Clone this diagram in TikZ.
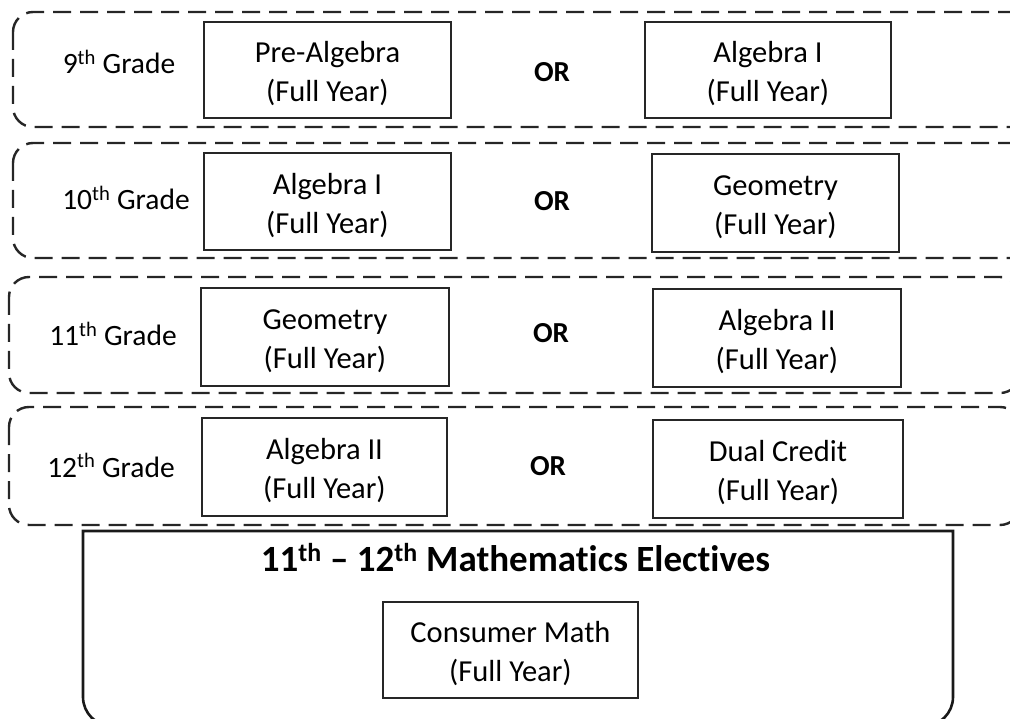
\documentclass[tikz,border=0pt]{standalone}
\usepackage{fontspec}
\setmainfont{Carlito}[Ligatures=NoCommon]
\tikzset{
  rowbox/.style={draw=black!85, line width=2.4pt, dash pattern=on 18pt off 9pt, rounded corners=20pt},
  coursebox/.style={draw=black!85, line width=1.8pt, rectangle, inner sep=0pt},
  coursetext/.style={align=center, inner sep=0pt, yshift=-4pt,
    font=\fontsize{30.5}{39}\selectfont},
  grade/.style={anchor=base, font=\fontsize{29.5}{37}\selectfont},
  orlabel/.style={anchor=base, font=\fontsize{29}{34}\selectfont\bfseries},
  elecbox/.style={draw=black!90, line width=2.6pt},
  electitle/.style={anchor=base, font=\fontsize{37}{44}\selectfont\bfseries}
}
\begin{document}
\begin{tikzpicture}[x=1pt, y=-1pt]
\useasboundingbox (0,0) rectangle (1010,719);
\clip (0,0) rectangle (1010,719);
% grade rows
\draw[rowbox] (13,12) rectangle (1030,127);
\draw[rowbox] (13,143) rectangle (1030,258);
\draw[rowbox] (9,277) rectangle (1020,393);
\draw[rowbox] (9,407) rectangle (1020,525);
% grade labels
\node[grade] (g9)  at (119,74)  {9\textsuperscript{th} Grade};
\node[grade] (g10) at (126,210) {10\textsuperscript{th} Grade};
\node[grade] (g11) at (113,346) {11\textsuperscript{th} Grade};
\node[grade] (g12) at (111,477) {12\textsuperscript{th} Grade};
% OR labels
\node[orlabel] (or1) at (552,82)  {OR};
\node[orlabel] (or2) at (552,211) {OR};
\node[orlabel] (or3) at (551,343) {OR};
\node[orlabel] (or4) at (548,475) {OR};
% courses
\node[coursebox, minimum width=247pt, minimum height=96pt] (c9a)  at (327.5,70)  {};
\node[coursebox, minimum width=246pt, minimum height=96pt] (c9b)  at (768,70)    {};
\node[coursebox, minimum width=247pt, minimum height=97pt] (c10a) at (327.5,201.5) {};
\node[coursebox, minimum width=247pt, minimum height=98pt] (c10b) at (775.5,203) {};
\node[coursebox, minimum width=248pt, minimum height=98pt] (c11a) at (325,337)   {};
\node[coursebox, minimum width=248pt, minimum height=98pt] (c11b) at (777,338)   {};
\node[coursebox, minimum width=245pt, minimum height=98pt] (c12a) at (324.5,467) {};
\node[coursebox, minimum width=250pt, minimum height=98pt] (c12b) at (778,469)   {};
\node[coursetext] (t9a)  at (c9a.center)  {Pre-Algebra\\(Full Year)};
\node[coursetext] (t9b)  at (c9b.center)  {Algebra I\\(Full Year)};
\node[coursetext] (t10a) at (c10a.center) {Algebra I\\(Full Year)};
\node[coursetext] (t10b) at (c10b.center) {Geometry\\(Full Year)};
\node[coursetext] (t11a) at (c11a.center) {Geometry\\(Full Year)};
\node[coursetext] (t11b) at (c11b.center) {Algebra II\\(Full Year)};
\node[coursetext] (t12a) at (c12a.center) {Algebra II\\(Full Year)};
\node[coursetext] (t12b) at (c12b.center) {Dual Credit\\(Full Year)};
% electives
\draw[elecbox] (83,531) -- (83,697) arc[start angle=180, end angle=90, x radius=29pt, y radius=-29pt]
  -- (924,726) arc[start angle=90, end angle=0, x radius=29pt, y radius=-29pt] -- (953,531) -- cycle;
\node[electitle] (et) at (515.5,571) {11\textsuperscript{th} -- 12\textsuperscript{th} Mathematics Electives};
\node[coursebox, minimum width=255pt, minimum height=96pt] (cm) at (510.5,650) {};
\node[coursetext] (tcm) at (cm.center) {Consumer Math\\(Full Year)};
\end{tikzpicture}
\end{document}
